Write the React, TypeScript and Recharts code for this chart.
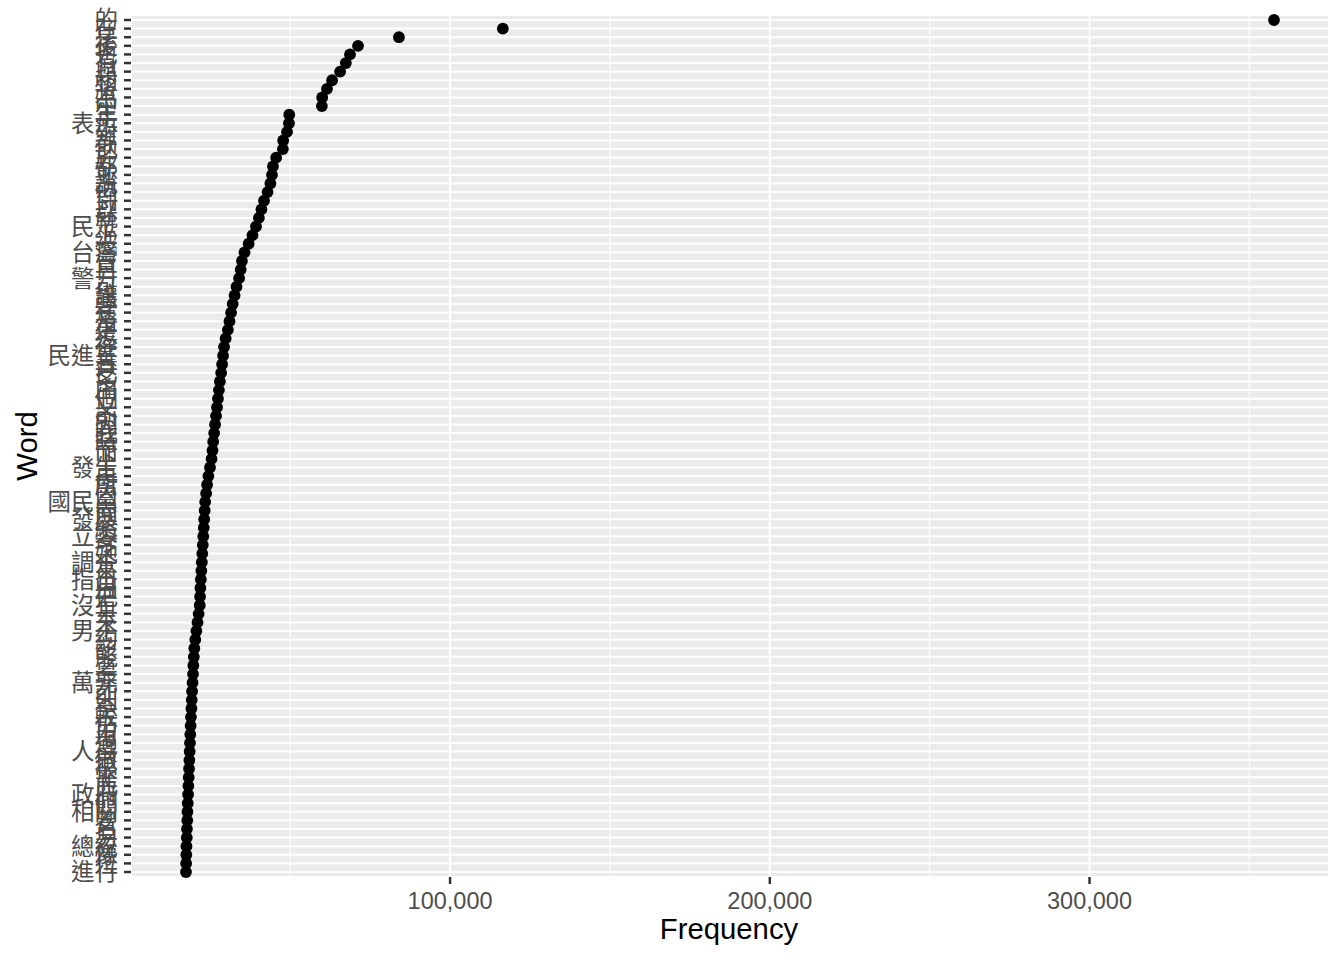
import { ScatterChart, Scatter, XAxis, YAxis, CartesianGrid, ReferenceLine } from "recharts";

document.body.style.margin = "0";

// words, most frequent first (top of the chart)
const words = [
  "的", "在", "是", "後", "也", "有", "與", "和", "將", "為",
  "中", "年", "表示", "對", "等", "他", "於", "都", "並", "說",
  "但", "到", "以", "就", "民眾", "上", "被", "台灣", "會", "日",
  "警方", "可", "讓", "要", "還", "及", "更", "這", "從", "民進黨",
  "其", "已", "多", "由", "個", "又", "前", "因", "我", "時",
  "而", "下", "發生", "再", "所", "內", "國民黨", "向", "發展", "給",
  "立委", "今", "她", "調查", "來", "指出", "月", "把", "沒有", "去",
  "未", "男子", "約", "該", "能", "之", "最", "萬元", "才", "則",
  "至", "較", "仍", "用", "過", "人員", "做", "很", "需", "此",
  "政府", "們", "相關", "曾", "名", "另", "總統", "像", "位", "進行",
];

const freqs = [
  357700, 116500, 84000, 71200, 68700, 67400, 65600, 63100, 61500, 60000,
  59900, 49700, 49600, 49000, 47800, 47700, 45600, 44600, 44300, 43800,
  42900, 41800, 41000, 40200, 39300, 38200, 37000, 35700, 34900, 34500,
  34000, 33200, 32600, 32000, 31500, 31000, 30500, 29800, 29300, 29000,
  28700, 28400, 28000, 27700, 27400, 27100, 26800, 26500, 26200, 25900,
  25700, 25400, 24900, 24400, 24000, 23700, 23400, 23250, 23100, 22950,
  22800, 22650, 22500, 22350, 22200, 22050, 21900, 21800, 21700, 21350,
  21000, 20650, 20300, 20000, 19850, 19700, 19600, 19450, 19300, 19200,
  19100, 18950, 18850, 18750, 18650, 18550, 18450, 18350, 18250, 18150,
  18050, 17950, 17850, 17800, 17700, 17650, 17550, 17500, 17450, 17400,
];

const xTicks = [100000, 200000, 300000];
const minorBreaks = [50000, 150000, 250000, 350000];

const data = words.map((w, i) => ({ word: w, freq: freqs[i] }));

const FONT = '"Liberation Sans", Arial, "Noto Sans CJK TC", sans-serif';
const tickStyle = { fill: "#4D4D4D", fontSize: 23.5, fontFamily: FONT };
const tickLine = { stroke: "#333333", strokeWidth: 2.5 };

const Dot = (p: any) => <circle cx={p.cx} cy={p.cy} r={5.9} fill="#000000" />;

export default function App() {
  return (
    <div style={{ position: "relative", width: 1344, height: 960, background: "#fff", fontFamily: FONT }}>
      <ScatterChart width={1344} height={960} margin={{ top: 15, right: 15, bottom: 0, left: 0 }}>
        <CartesianGrid fill="#EBEBEB" fillOpacity={1} stroke="#FFFFFF" strokeWidth={2} />
        {minorBreaks.map((b) => (
          <ReferenceLine key={b} x={b} stroke="#FFFFFF" strokeWidth={1} />
        ))}
        <XAxis
          type="number"
          dataKey="freq"
          domain={[200, 374900]}
          ticks={xTicks}
          tickFormatter={(v: number) => v.toLocaleString("en-US")}
          height={83}
          axisLine={false}
          tickLine={tickLine}
          tickSize={7}
          tickMargin={8}
          tick={tickStyle}
        />
        <YAxis
          type="category"
          dataKey="word"
          scale="point"
          reversed
          allowDuplicatedCategory={false}
          interval={0}
          width={131}
          padding={{ top: 5, bottom: 5 }}
          axisLine={false}
          tickLine={tickLine}
          tickSize={7}
          tickMargin={6}
          tick={tickStyle}
        />
        <Scatter data={data} fill="#000" isAnimationActive={false} shape={Dot} />
      </ScatterChart>
      <div
        style={{
          position: "absolute",
          left: 729,
          top: 914,
          transform: "translateX(-50%)",
          fontSize: 29.3,
          lineHeight: 1,
          color: "#000",
          whiteSpace: "nowrap",
        }}
      >
        Frequency
      </div>
      <div
        style={{
          position: "absolute",
          left: 27,
          top: 446,
          transform: "translate(-50%, -50%) rotate(-90deg)",
          fontSize: 29.3,
          lineHeight: 1,
          color: "#000",
          whiteSpace: "nowrap",
        }}
      >
        Word
      </div>
    </div>
  );
}
